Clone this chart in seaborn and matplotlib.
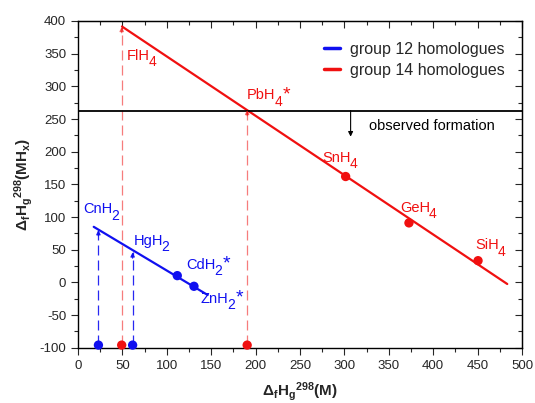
import matplotlib
matplotlib.use("Agg")
import matplotlib.pyplot as plt
import seaborn as sns
import pandas as pd

# --- data -------------------------------------------------------------
# group 12 hydrides: atomisation enthalpy of metal vs. formation enthalpy
g12_names = [("CdH", "2", True), ("ZnH", "2", True)]
g12_x = [111.8, 130.6]
g12_y = [10.3, -6.0]
g12_line_x = [17.7, 146.0]
g12_line_y = [85.0, -19.3]

# group 14 hydrides
g14_names = [("SnH", "4", False), ("GeH", "4", False), ("SiH", "4", False)]
g14_x = [301.4, 372.7, 450.5]
g14_y = [162.0, 91.0, 33.2]
g14_line_x = [49.5, 483.4]
g14_line_y = [391.6, -2.5]

# heavy elements: metal enthalpy (on axis) and predicted hydride value
heavy12_names = [("CnH", "2", False), ("HgH", "2", False)]
heavy12_x = [23.0, 61.5]
heavy12_pred = [80.0, 46.0]
heavy14_names = [("FlH", "4", False), ("PbH", "4", True)]
heavy14_x = [49.2, 190.5]
heavy14_pred = [391.0, 264.0]
axis_y = -96.0

observed_limit = 263.0

x_ticks = list(range(0, 501, 50))
y_ticks = list(range(-100, 401, 50))

BLUE = "#1010f0"
RED = "#f01010"

# --- style ------------------------------------------------------------
sns.set_style("ticks")
plt.rcParams["font.family"] = ["Liberation Sans", "DejaVu Sans"]
plt.rcParams["axes.unicode_minus"] = False
plt.rcParams["mathtext.fontset"] = "custom"
plt.rcParams["mathtext.rm"] = "Liberation Sans"
plt.rcParams["mathtext.it"] = "Liberation Sans:italic"
plt.rcParams["mathtext.bf"] = "Liberation Sans:bold"

fig = plt.figure(figsize=(5.35, 4.03), dpi=100)
ax = fig.add_axes([0.1458, 0.1372, 0.8299, 0.8107])

# fitted trend lines
lines = pd.concat([
    pd.DataFrame({"x": g12_line_x, "y": g12_line_y, "group": "group 12 homologues"}),
    pd.DataFrame({"x": g14_line_x, "y": g14_line_y, "group": "group 14 homologues"}),
])
sns.lineplot(data=lines, x="x", y="y", hue="group", palette=[BLUE, RED],
             linewidth=1.6, ax=ax, legend=True, sort=False, estimator=None)

# measured hydrides
sns.scatterplot(x=g12_x, y=g12_y, color=BLUE, s=45, edgecolor="none", ax=ax, legend=False)
sns.scatterplot(x=g14_x, y=g14_y, color=RED, s=45, edgecolor="none", ax=ax, legend=False)

# metal enthalpies along the bottom
sns.scatterplot(x=heavy12_x, y=[axis_y] * 2, color=BLUE, s=45, edgecolor="none",
                ax=ax, legend=False, zorder=5, clip_on=False)
sns.scatterplot(x=heavy14_x, y=[axis_y] * 2, color=RED, s=45, edgecolor="none",
                ax=ax, legend=False, zorder=5, clip_on=False)

# dashed projections from the metal value onto the trend line
for xs, tops, col, alpha in [(heavy12_x, heavy12_pred, BLUE, 0.9),
                             (heavy14_x, heavy14_pred, RED, 0.55)]:
    for x, top in zip(xs, tops):
        ax.plot([x, x], [axis_y, top], color=col, lw=0.9, alpha=alpha,
                dashes=(8, 4))
        ax.annotate("", xy=(x, top), xytext=(x, top - 9),
                    arrowprops=dict(arrowstyle="-|>", color=col, lw=0.9,
                                    alpha=alpha, mutation_scale=6,
                                    shrinkA=0, shrinkB=0))

# observed formation threshold
ax.axhline(observed_limit, color="black", lw=1.3)
ax.annotate("", xy=(307, observed_limit - 40), xytext=(307, observed_limit),
            arrowprops=dict(arrowstyle="-|>", color="black", lw=0.8,
                            mutation_scale=7, shrinkA=0, shrinkB=0))
ax.text(328, 233.4, "observed formation", fontsize=10.5, color="black")


def formula(x, y, base, sub, star, color):
    """Chemical formula with a dropped subscript and optional raised asterisk."""
    t = ax.text(x, y, base, color=color, fontsize=10.5, va="baseline", ha="left")
    s = ax.annotate(sub, xy=(1, 0), xycoords=t, xytext=(-0.8, -2.5),
                    textcoords="offset points", color=color, fontsize=10,
                    va="baseline", ha="left")
    if star:
        ax.annotate("*", xy=(1, 0), xycoords=(s, t), xytext=(0.5, 2.2),
                    textcoords="offset points", color=color, fontsize=14,
                    va="baseline", ha="left")


# label positions (baseline, left edge) in data units
label_pos = {
    "CnH": (5.6, 106.0), "HgH": (62.3, 57.3), "CdH": (121.6, 20.5),
    "ZnH": (138.0, -31.0), "FlH": (55.2, 340.6), "PbH": (190.3, 280.4),
    "SnH": (275.5, 184.8), "GeH": (362.6, 108.3), "SiH": (447.0, 50.7),
}
for names, col in [(heavy12_names + g12_names, BLUE),
                   (heavy14_names + g14_names, RED)]:
    for base, sub, star in names:
        x, y = label_pos[base]
        formula(x, y, base, sub, star, col)

# axes
ax.set_xlim(0, 500)
ax.set_ylim(-100, 400)
ax.set_xticks(x_ticks)
ax.set_yticks(y_ticks)
ax.set_xticks(list(range(25, 500, 50)), minor=True)
ax.set_yticks(list(range(-75, 400, 50)), minor=True)
ax.tick_params(which="major", direction="out", length=5, width=0.8, labelsize=9.5)
ax.tick_params(which="minor", direction="out", length=3, width=0.8)
for side in ["top", "right", "left", "bottom"]:
    ax.spines[side].set_visible(True)
    ax.spines[side].set_linewidth(1.0)
    ax.spines[side].set_color("black")

top = ax.secondary_xaxis("top")
top.set_xticks(x_ticks)
top.set_xticks(list(range(25, 500, 50)), minor=True)
top.tick_params(which="major", direction="in", length=5, width=0.8, labeltop=False)
top.tick_params(which="minor", direction="in", length=3, width=0.8)
right = ax.secondary_yaxis("right")
right.set_yticks(y_ticks)
right.set_yticks(list(range(-75, 400, 50)), minor=True)
right.tick_params(which="major", direction="in", length=5, width=0.8, labelright=False)
right.tick_params(which="minor", direction="in", length=3, width=0.8)

ax.set_xlabel(r"$\mathbf{\Delta_f H_g{}^{298}(M)}$", fontsize=11, labelpad=6)
ax.set_ylabel(r"$\mathbf{\Delta_f H_g{}^{298}(MH_x)}$", fontsize=11, labelpad=3)

leg = ax.legend(loc="upper right", bbox_to_anchor=(0.975, 0.955), frameon=False,
                fontsize=11.5, handlelength=1.0, handletextpad=0.6,
                labelspacing=0.35, borderaxespad=0)
for h in leg.get_lines():
    h.set_linewidth(2.5)

fig.savefig("out.png", dpi=100)
